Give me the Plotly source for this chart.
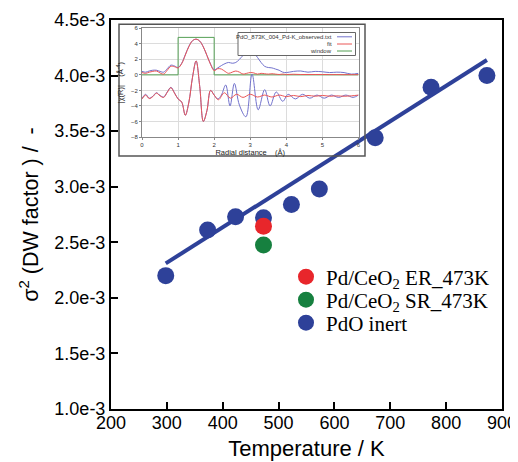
import plotly.graph_objects as go

# ---------------- main data ----------------
temp_inert = [298, 373, 423, 473, 523, 573, 673, 773, 873]
dw_inert = [2.20e-3, 2.61e-3, 2.73e-3, 2.72e-3, 2.84e-3, 2.98e-3, 3.44e-3, 3.895e-3, 4.0e-3]
temp_er = [473]
dw_er = [2.645e-3]
temp_sr = [473]
dw_sr = [2.475e-3]
fit_temp = [298, 873]
fit_dw = [2.31e-3, 4.14e-3]

x_tickvals = [200, 300, 400, 500, 600, 700, 800, 900]
y_tickvals = [1.0e-3, 1.5e-3, 2.0e-3, 2.5e-3, 3.0e-3, 3.5e-3, 4.0e-3, 4.5e-3]
y_ticktext = ["1.0e-3", "1.5e-3", "2.0e-3", "2.5e-3", "3.0e-3", "3.5e-3", "4.0e-3", "4.5e-3"]

# ---------------- inset data (radial distribution) ----------------
r_mag = [0.0,0.1,0.2,0.3,0.4,0.5,0.6,0.7,0.8,0.9,1.0,1.1,1.2,1.3,1.4,1.5,1.6,1.7,1.8,1.9,2.0,
         2.1,2.2,2.3,2.4,2.5,2.6,2.7,2.8,2.9,3.0,3.1,3.2,3.3,3.4,3.5,3.6,3.7,3.8,3.9,4.0,
         4.2,4.4,4.6,4.8,5.0,5.2,5.4,5.6,5.8,6.0]
obs_mag = [0.45,0.35,0.5,0.6,0.6,0.45,0.35,0.8,1.25,1.15,0.95,1.5,2.6,3.7,4.4,4.6,4.35,3.6,2.5,1.4,0.65,
           0.9,1.2,1.45,1.6,1.5,1.6,2.0,2.5,2.85,3.0,2.8,2.25,1.6,1.1,0.95,0.9,0.75,0.6,0.35,0.3,
           0.45,0.5,0.35,0.45,0.4,0.3,0.35,0.3,0.1,0.2]
fit_mag = [0.3,0.2,0.35,0.45,0.5,0.25,0.1,0.6,1.1,1.05,0.9,1.45,2.55,3.65,4.4,4.6,4.35,3.6,2.5,1.35,0.55,
           0.8,0.75,0.45,0.2,0.35,0.5,0.35,0.1,0.2,0.3,0.25,0.1,0.2,0.15,0.1,0.15,0.1,0.05,0.1,0.05,
           0.08,0.05,0.05,0.05,0.05,0.04,0.04,0.03,0.03,0.03]
r_window = [0.0, 1.0, 1.0, 2.0, 2.0, 6.0]
window = [0.0, 0.0, 4.83, 4.83, 0.0, 0.0]

r_obs_re = [0.0,0.1,0.2,0.3,0.4,0.5,0.6,0.7,0.8,0.9,1.0,1.1,1.2,1.3,1.4,1.5,1.6,1.7,1.8,1.9,2.0,
            2.1,2.2,2.32,2.44,2.56,2.7,2.88,3.05,3.22,3.4,3.55,3.72,3.9,4.05,4.25,4.45,4.65,4.85,
            5.05,5.25,5.45,5.65,5.85,6.0]
obs_re = [-3.05,-2.5,-3.0,-2.75,-2.3,-2.65,-2.85,-2.2,-1.6,-2.3,-3.1,-3.5,-5.2,-3.5,-0.3,1.8,-1.5,-6.0,-4.6,-2.0,-2.6,
          -3.1,-2.6,-1.3,-4.0,-1.1,-3.9,-5.4,0.1,-4.5,-1.9,-4.0,-2.2,-3.4,-2.5,-3.1,-2.5,-3.0,-2.6,
          -3.0,-2.6,-2.9,-2.6,-2.9,-2.6]
r_fit_re = [0.0,0.1,0.2,0.3,0.4,0.5,0.6,0.7,0.8,0.9,1.0,1.1,1.2,1.3,1.4,1.5,1.6,1.7,1.8,1.9,2.0,
            2.12,2.28,2.45,2.62,2.8,3.0,3.2,3.4,3.6,3.8,4.0,4.2,4.4,4.6,4.8,5.0,5.2,5.4,5.6,5.8,6.0]
fit_re = [-3.1,-2.6,-3.05,-2.8,-2.35,-2.7,-2.9,-2.25,-1.65,-2.35,-3.1,-3.5,-5.2,-3.5,-0.3,1.8,-1.5,-6.0,-4.6,-2.0,-2.6,
          -3.2,-2.3,-3.0,-2.5,-2.9,-2.5,-2.85,-2.6,-2.85,-2.6,-2.8,-2.65,-2.8,-2.65,-2.75,-2.65,-2.75,-2.7,-2.75,-2.7,-2.6]

inset_xticks = [0, 1, 2, 3, 4, 5, 6]
inset_yticks = [-8, -6, -4, -2, 0, 2, 4, 6]
inset_legend = ["PdO_873K_004_Pd-K_observed.txt", "fit", "window"]

BLUE = "#2e4199"
RED = "#e8262b"
GREEN = "#16803f"
IBLUE = "#7272cc"
IRED = "#ea5656"
IGREEN = "#55a055"

# the page body has an 8 px margin, so the figure is made 8 px smaller
# and all screen positions below are given in window pixels
OFF = 8
W, H = 518 - OFF, 462 - OFF
ML, MT = 111 - OFF, 20 - OFF
MR = W - (502 - OFF)
MB = H - (409 - OFF)
PW, PH = W - ML - MR, H - MT - MB


def px(x):
    return (x - OFF - ML) / PW


def py(y):
    return (H - MB - (y - OFF)) / PH


fig = go.Figure()

# main plot
fig.add_trace(go.Scatter(x=fit_temp, y=fit_dw, mode="lines",
                         line=dict(color=BLUE, width=4), showlegend=False, hoverinfo="skip"))
fig.add_trace(go.Scatter(x=temp_inert, y=dw_inert, mode="markers", name="PdO inert",
                         marker=dict(color=BLUE, size=17), legend="legend3"))
fig.add_trace(go.Scatter(x=temp_er, y=dw_er, mode="markers", name="Pd/CeO<sub>2</sub> ER_473K",
                         marker=dict(color=RED, size=17), legend="legend"))
fig.add_trace(go.Scatter(x=temp_sr, y=dw_sr, mode="markers", name="Pd/CeO<sub>2</sub> SR_473K",
                         marker=dict(color=GREEN, size=17), legend="legend2"))

# inset
ins = dict(xaxis="x2", yaxis="y2", showlegend=False, hoverinfo="skip")
fig.add_trace(go.Scatter(x=r_window, y=window, mode="lines", line=dict(color=IGREEN, width=1), **ins))
fig.add_trace(go.Scatter(x=r_mag, y=obs_mag, mode="lines", line=dict(color=IBLUE, width=1, shape="spline"), **ins))
fig.add_trace(go.Scatter(x=r_mag, y=fit_mag, mode="lines", line=dict(color=IRED, width=1, shape="spline"), **ins))
fig.add_trace(go.Scatter(x=r_obs_re, y=obs_re, mode="lines", line=dict(color=IBLUE, width=1, shape="spline"), **ins))
fig.add_trace(go.Scatter(x=r_fit_re, y=fit_re, mode="lines", line=dict(color=IRED, width=1, shape="spline"), **ins))

axis_font = dict(family="Liberation Sans, Arial, sans-serif", size=18, color="black")
leg_font = dict(family="Liberation Serif, Times New Roman, serif", size=21, color="black")


def leg(yc):
    return dict(x=px(286), y=py(yc), xanchor="left", yanchor="middle", font=leg_font,
                bgcolor="rgba(0,0,0,0)", borderwidth=0)


fig.update_layout(
    width=W, height=H,
    margin=dict(l=ML, r=MR, t=MT, b=MB, autoexpand=False),
    paper_bgcolor="white", plot_bgcolor="rgba(0,0,0,0)",
    font=dict(family="Liberation Sans, Arial, sans-serif", color="black"),
    xaxis=dict(range=[200, 900], tickvals=x_tickvals, ticks="inside", ticklen=7, tickwidth=2,
               tickcolor="black", showline=True, linecolor="black", linewidth=2, mirror=True,
               showgrid=False, zeroline=False, tickfont=axis_font, automargin=False,
               ticklabelstandoff=-4,
               title=dict(text="Temperature / K", font=dict(size=22), standoff=9)),
    yaxis=dict(range=[1.0e-3, 4.5e-3], tickvals=y_tickvals, ticktext=y_ticktext, ticks="inside",
               ticklen=7, tickwidth=2, tickcolor="black", showline=True, linecolor="black",
               linewidth=2, mirror=True, showgrid=False, zeroline=False, tickfont=axis_font,
               automargin=False,
               title=dict(text="σ<sup>2</sup> (DW factor ) /  -", font=dict(size=21.5), standoff=10)),
    xaxis2=dict(domain=[px(142), px(358.5)], anchor="y2", range=[0, 6], tickvals=inset_xticks,
                ticks="outside", ticklen=2, tickcolor="#888", showline=True, linecolor="#888",
                linewidth=1, mirror=True, showgrid=True, gridcolor="#dcdcdc", gridwidth=1,
                zeroline=False, tickfont=dict(size=6, color="#333"), automargin=False,
                title=dict(text="Radial distance    (Å)", font=dict(size=7.5, color="#222"), standoff=0)),
    yaxis2=dict(domain=[py(137), py(28.3)], anchor="x2", range=[-8, 6], tickvals=inset_yticks,
                ticks="outside", ticklen=2, tickcolor="#888", showline=True, linecolor="#888",
                linewidth=1, mirror=True, showgrid=True, gridcolor="#dcdcdc", gridwidth=1,
                zeroline=False, tickfont=dict(size=6, color="#333"), automargin=False,
                title=dict(text="|χ(R)|    (Å<sup>-4</sup>)", font=dict(size=7.5, color="#222"), standoff=6)),
    legend=leg(277),
    legend2=leg(300),
    legend3=leg(323),
    showlegend=True,
)

# inset frame
fig.add_shape(type="rect", xref="paper", yref="paper", x0=px(119), x1=px(365), y0=py(156), y1=py(24.3),
              line=dict(color="#555", width=1.5), layer="above")
# inset legend box
fig.add_shape(type="rect", xref="paper", yref="paper", x0=px(238), x1=px(355.5), y0=py(55.5), y1=py(32.5),
              line=dict(color="#666", width=1), fillcolor="white", layer="above")
leg_rows = [36.8, 44.0, 51.0]
leg_cols = [IBLUE, IRED, IGREEN]
for txt, yy, c in zip(inset_legend, leg_rows, leg_cols):
    fig.add_annotation(xref="paper", yref="paper", x=px(334), y=py(yy), text=txt, showarrow=False,
                       xanchor="right", yanchor="middle", font=dict(size=6, color="#333"))
    fig.add_shape(type="line", xref="paper", yref="paper", x0=px(337), x1=px(352), y0=py(yy), y1=py(yy),
                  line=dict(color=c, width=1), layer="above")

fig.write_html("out.html")
